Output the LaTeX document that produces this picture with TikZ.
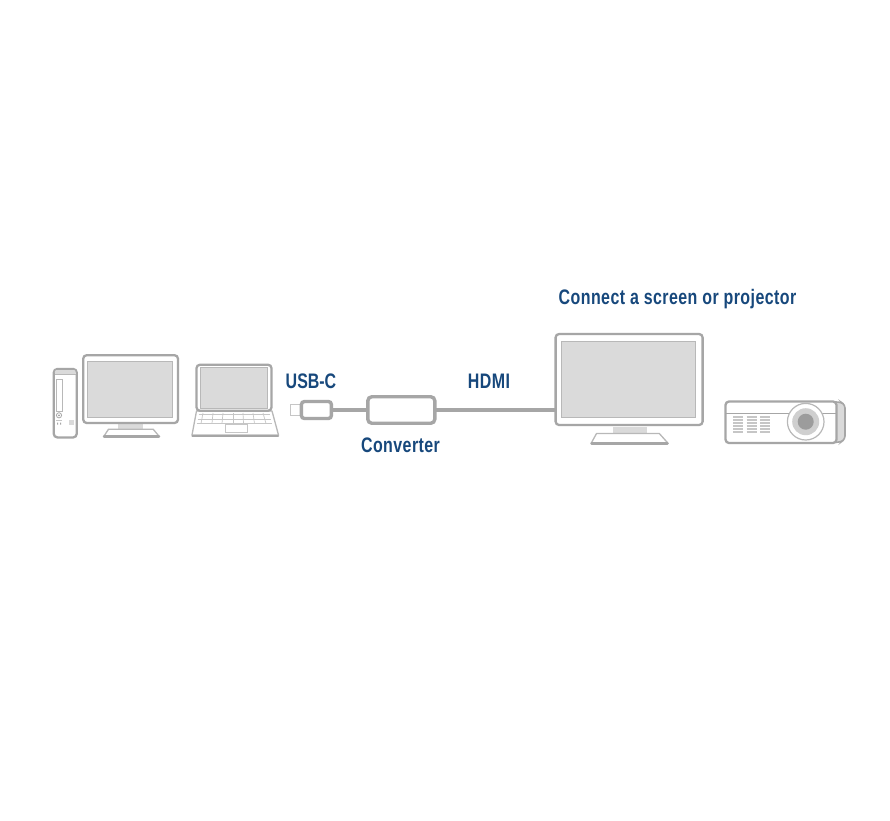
\documentclass[tikz,border=0pt]{standalone}
\usepackage{fontspec}
\setmainfont[FakeStretch=0.76,LetterSpace=2.1]{Liberation Sans Bold}
\newfontfamily\capsfont[FakeStretch=0.76]{Liberation Sans Bold}
\definecolor{strokegray}{HTML}{A6A6A6}
\definecolor{thingray}{HTML}{B8B8B8}
\definecolor{keygray}{HTML}{C6C6C6}
\definecolor{screengray}{HTML}{DADADA}
\definecolor{lensdark}{HTML}{9C9C9C}
\definecolor{lensmid}{HTML}{CFCFCF}
\definecolor{labelblue}{HTML}{17487C}
\tikzset{
  lbl/.style={text=labelblue,inner sep=0pt,anchor=base,font=\fontsize{21}{24}\selectfont},
  shell/.style={draw=strokegray,line width=2.3pt,rounded corners=3.5pt,fill=white},
  scr/.style={draw=thingray,line width=1pt,fill=screengray},
  neck/.style={fill=screengray,draw=none},
  foot/.style={draw=thingray,line width=1.3pt,line join=round,fill=white},
  footbar/.style={draw=strokegray,line width=2.5pt,line cap=round},
  thinline/.style={draw=keygray,line width=0.7pt},
  cable/.style={draw=strokegray,line width=4.4pt},
  box/.style={draw=strokegray,fill=white,inner sep=0pt,outer sep=0pt,rounded corners=4pt,line width=3.4pt},
}
\begin{document}
\begin{tikzpicture}[x=1pt,y=-1pt]
\useasboundingbox[fill=white] (0,0) rectangle (890,820);
% labels
\node[lbl] (title) at (677.5,304) {Connect a screen or projector};
\node[lbl] (usbc) at (311,388) {\capsfont USB-C};
\node[lbl] (hdmi) at (489,388) {HDMI};
\node[lbl] (conv) at (400.5,452) {Converter};

% tower
\draw[shell] (53.8,369) rectangle (76.7,437.4);
\fill[screengray,rounded corners=2pt] (54.8,370) rectangle (75.7,374.5);
\draw[thingray,line width=1pt] (54.8,374.5) -- (75.7,374.5);
\draw[thingray,line width=1pt] (56.3,379.5) rectangle (62.5,411);
\draw[strokegray,line width=0.8pt] (59,415.3) circle (2.6);
\fill[lensdark] (59,415.3) circle (1);
\fill[strokegray] (57,422.6) rectangle (58,424.6) (60,422.6) rectangle (61,424.6);
\fill[screengray] (68.7,420) rectangle (73.5,424.8);
\draw[keygray,line width=0.5pt] (56,420) -- (62,420);

% left monitor
\fill[neck] (118.3,424) rectangle (143.3,430);
\filldraw[foot] (103.8,436.4) -- (108.5,429.2) -- (153.2,429.2) -- (159.2,436.4) -- cycle;
\draw[footbar] (104,436.5) -- (159,436.5);
\draw[shell] (83.2,355.2) rectangle (178,423);
\draw[scr] (87.8,361) rectangle (172.3,417.3);

% laptop
\filldraw[foot] (196.5,411) -- (192,435) -- (278.5,435) -- (272,411) -- cycle;
\draw[footbar] (192.5,435.8) -- (278,435.8);
\foreach \yy/\xa/\xb in {414.5/198.5/269.8,419/197.7/270.9,423.5/196.6/272.2}
  \draw[thinline] (\xa,\yy) -- (\xb,\yy);
\foreach \ta/\tb in {203/201,213/212,223/222,233/233,243/243.5,253/254.5,263/266}
  \draw[thinline] (\ta,413) -- (\tb,423.5);
\draw[thinline] (225,424) rectangle (247.3,432.5);
\draw[shell,fill=white] (196.5,364.7) rectangle (271.5,410.8);
\draw[scr] (200.7,367.9) rectangle (267.7,408.2);

% USB-C plug, converter, monitor (graph part)
\node[draw=keygray,line width=1.4pt,fill=white,inner sep=0pt,minimum width=10pt,minimum height=11.5pt] (tip) at (295.6,410) {};
\node[box,minimum width=30pt,minimum height=17pt,rounded corners=3pt] (plug) at (316.4,410) {};
\node[box,minimum width=67pt,minimum height=26.5pt] (converter) at (401.3,410) {};
\node[shell,inner sep=0pt,minimum width=147pt,minimum height=91pt,outer sep=1pt] (bigmon) at (629.1,379.5) {};
\draw[cable] (plug.east) -- (converter.west);
\draw[cable] (converter.east) -- (bigmon.west |- converter.east);

% right monitor details
\fill[neck] (612.7,426.5) rectangle (646.7,434);
\filldraw[foot] (591.3,443) -- (596.5,433.5) -- (659.3,433.5) -- (667.8,443) -- cycle;
\draw[footbar] (591.5,443.6) -- (667.5,443.6);
\draw[scr] (561.7,341.7) rectangle (695,417.7);

% projector
\draw[strokegray,line width=1.6pt,rounded corners=3pt,fill=screengray] (830,401.8) -- (841,402.2) -- (845,405) -- (845,439) -- (841,442) -- (830,442.5) -- cycle;
\draw[shell] (725.5,401.5) rectangle (836.5,443);
\draw[strokegray,line width=1.1pt] (726,413.5) -- (836,413.5);
\foreach \xa in {733.3,746.7,760}
  \foreach \yy in {417,420,423,426,429,432}
    \draw[draw=keygray,line width=1.3pt] (\xa,\yy) -- (\xa+10,\yy);
\filldraw[draw=thingray,line width=1.2pt,fill=white] (805.7,421.7) circle (18.3);
\fill[lensmid] (805.7,421.7) circle (13.5);
\fill[lensdark] (805.7,421.7) circle (8);
\end{tikzpicture}
\end{document}
